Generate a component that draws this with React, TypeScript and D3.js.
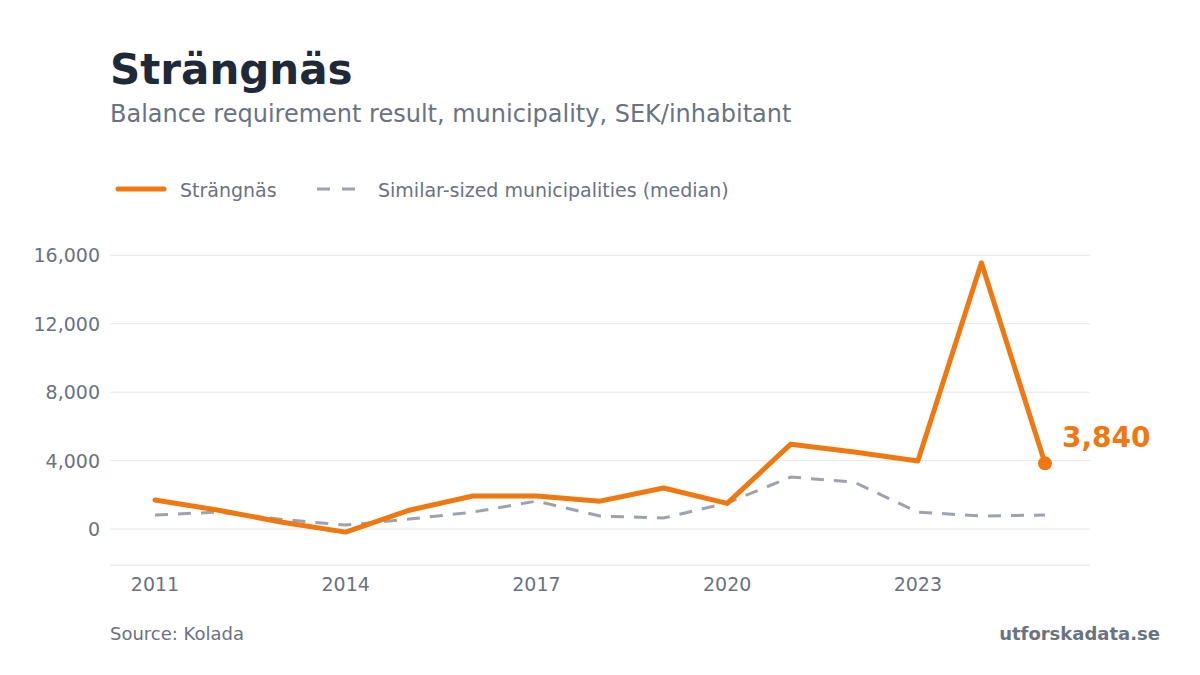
import React from 'react';
import * as d3 from 'd3';

const years = [2011, 2012, 2013, 2014, 2015, 2016, 2017, 2018, 2019, 2020, 2021, 2022, 2023, 2024, 2025];
const strangnas = [1700, 1100, 400, -180, 1100, 1930, 1930, 1630, 2400, 1500, 4960, 4500, 3980, 15560, 3840];
const median = [820, 990, 560, 230, 580, 990, 1630, 760, 640, 1520, 3040, 2740, 990, 760, 820];
const yTicks = [0, 4000, 8000, 12000, 16000];
const xTicks = [2011, 2014, 2017, 2020, 2023];

const ORANGE = '#ef7811';
const GREY = '#9ca3af';
const TEXT = '#6b7280';
const FONT = '"DejaVu Sans", sans-serif';

const App: React.FC = () => {
  const width = 1200;
  const height = 675;

  const x = d3.scaleLinear().domain([2011, 2025]).range([155, 1045]);
  const y = d3.scaleLinear().domain([-2120, 16000]).range([565.3, 255.3]);

  const line = d3.line<number>()
    .x((_, i) => x(years[i]))
    .y((d) => y(d));

  const last = strangnas[strangnas.length - 1];
  const fmt = d3.format(',');

  return (
    <svg width={width} height={height} style={{ display: 'block', position: 'absolute', left: 0, top: 0 }} fontFamily={FONT}>
      <rect width={width} height={height} fill="#fff" />
      <text x={110} y={84} fontSize={42} fontWeight="bold" fill="#1f2937">Strängnäs</text>
      <text x={110} y={122} fontSize={24} fill={TEXT}>Balance requirement result, municipality, SEK/inhabitant</text>

      {/* legend */}
      <line x1={118} x2={164} y1={189} y2={189} stroke={ORANGE} strokeWidth={5} strokeLinecap="round" />
      <text x={180} y={197} fontSize={19} fill={TEXT}>Strängnäs</text>
      <line x1={317} x2={356} y1={189} y2={189} stroke={GREY} strokeWidth={3} strokeDasharray="13,12" />
      <text x={378} y={197} fontSize={19} fill={TEXT}>Similar-sized municipalities (median)</text>

      {/* grid */}
      {yTicks.map((t) => (
        <g key={t}>
          <line x1={110} x2={1090} y1={y(t)} y2={y(t)} stroke="#e5e7eb" strokeWidth={1} />
          <text x={100} y={y(t) + 7} fontSize={19} fill={TEXT} textAnchor="end">{fmt(t)}</text>
        </g>
      ))}
      <line x1={110} x2={1090} y1={y(-2120)} y2={y(-2120)} stroke="#e5e7eb" strokeWidth={1} />
      {xTicks.map((t) => (
        <text key={t} x={x(t)} y={591} fontSize={19} fill={TEXT} textAnchor="middle">{t}</text>
      ))}

      {/* series */}
      <path d={line(median) ?? ''} fill="none" stroke={GREY} strokeWidth={3} strokeDasharray="13,10" />
      <path d={line(strangnas) ?? ''} fill="none" stroke={ORANGE} strokeWidth={5} strokeLinejoin="round" strokeLinecap="round" />
      <circle cx={x(2025)} cy={y(last)} r={7} fill={ORANGE} />
      <text x={x(2025) + 17} y={y(last) - 16} fontSize={28} fontWeight="bold" fill={ORANGE}>{fmt(last)}</text>

      {/* footer */}
      <text x={110} y={640} fontSize={18} fill={TEXT}>Source: Kolada</text>
      <text x={1160} y={640} fontSize={18} fontWeight="bold" fill={TEXT} textAnchor="end">utforskadata.se</text>
    </svg>
  );
};

export default App;
